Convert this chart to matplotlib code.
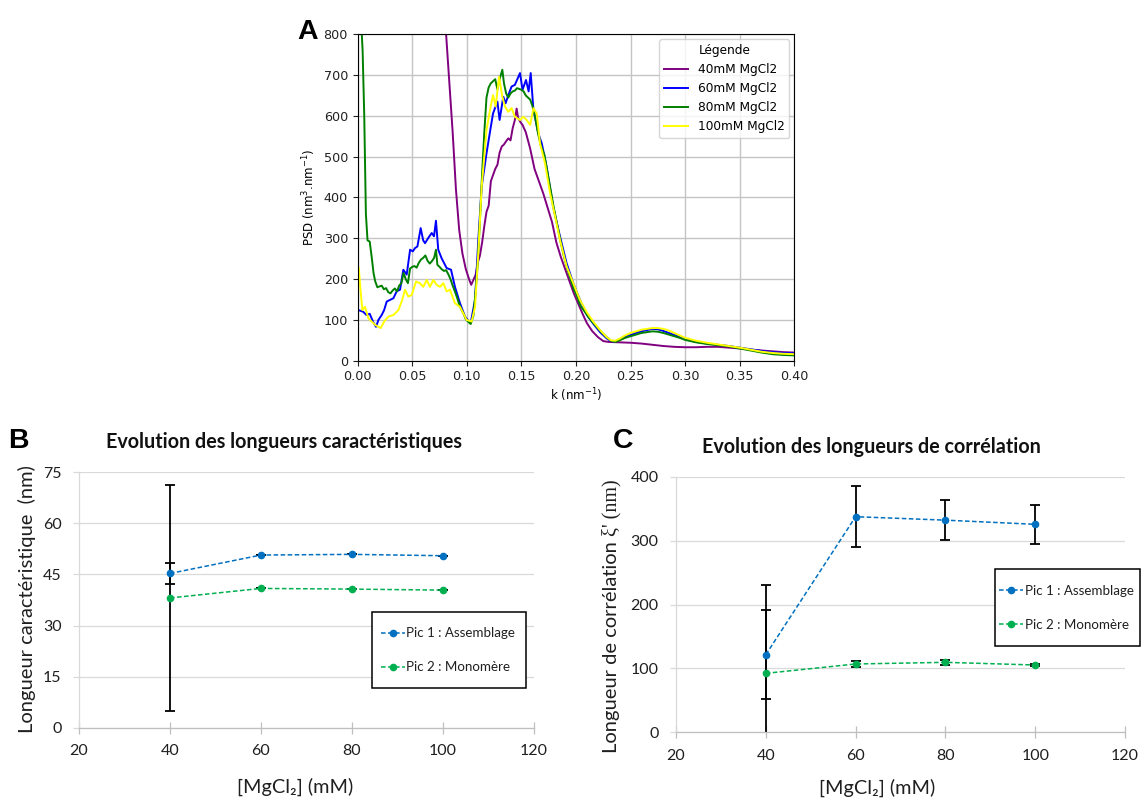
import matplotlib
matplotlib.use('Agg')
import matplotlib.pyplot as plt
from matplotlib.lines import Line2D
from matplotlib.patches import Rectangle
from matplotlib.ticker import FormatStrFormatter

# ---------------- Panel A data (PSD curves) ----------------
K40 = [0.078, 0.081, 0.084, 0.087, 0.090, 0.093, 0.096, 0.099, 0.102, 0.104,
       0.106, 0.108, 0.110, 0.112, 0.114, 0.116, 0.118, 0.120, 0.122, 0.124,
       0.126, 0.128, 0.130, 0.132, 0.134, 0.136, 0.138, 0.140, 0.142, 0.144,
       0.1456, 0.147, 0.149, 0.151, 0.154, 0.158, 0.162, 0.166, 0.170, 0.174,
       0.178, 0.182, 0.186, 0.190, 0.194, 0.198, 0.202, 0.206, 0.210, 0.215,
       0.220, 0.225, 0.230, 0.240, 0.250, 0.260, 0.270, 0.280, 0.290, 0.300,
       0.310, 0.320, 0.330, 0.340, 0.350, 0.360, 0.370, 0.380, 0.390, 0.400]
V40 = [900, 800, 680, 560, 420, 320, 262, 225, 200, 186,
       198, 210, 240, 258, 290, 330, 365, 380, 440, 455,
       470, 480, 510, 525, 530, 538, 545, 540, 570, 590,
       618, 595, 585, 578, 560, 520, 470, 440, 410, 375,
       340, 290, 255, 225, 195, 165, 140, 115, 92, 72,
       58, 48, 46, 45, 44, 42, 39, 36, 34, 33,
       33, 34, 34, 32, 30, 27, 25, 23, 21, 20]

K60 = [0.0005, 0.003, 0.005, 0.008, 0.011, 0.0143, 0.0168, 0.019, 0.022, 0.0242,
       0.0266, 0.0296, 0.0327, 0.0357, 0.0388, 0.0418, 0.0449, 0.048, 0.0505, 0.0525,
       0.0547, 0.0577, 0.0600, 0.0617, 0.0647, 0.0678, 0.0699, 0.0717, 0.0738, 0.0769,
       0.079, 0.0815, 0.0835, 0.0855, 0.0891, 0.0937, 0.0983, 0.1035, 0.1075, 0.1105,
       0.1136, 0.118, 0.1212, 0.124, 0.128, 0.130, 0.1334, 0.1355, 0.138, 0.141,
       0.144, 0.1487, 0.151, 0.1542, 0.1566, 0.1585, 0.161, 0.1655, 0.1686, 0.173,
       0.179, 0.1853, 0.1914, 0.1975, 0.2036, 0.210, 0.216, 0.222, 0.228, 0.232,
       0.236, 0.240, 0.245, 0.250, 0.255, 0.260, 0.265, 0.270, 0.275, 0.280,
       0.285, 0.290, 0.295, 0.300, 0.310, 0.320, 0.330, 0.340, 0.350, 0.360,
       0.370, 0.380, 0.390, 0.400]
V60 = [124, 122, 120, 112, 115, 94, 83, 100, 112, 124,
       145, 149, 153, 170, 174, 223, 211, 272, 268, 276,
       280, 325, 295, 288, 301, 313, 305, 343, 272, 251,
       240, 227, 225, 223, 181, 141, 108, 92, 149, 296,
       427, 508, 561, 606, 635, 590, 647, 631, 651, 672,
       676, 705, 664, 688, 660, 705, 615, 557, 533, 476,
       378, 305, 239, 190, 149, 112, 90, 70, 55, 48,
       47, 52, 58, 63, 68, 72, 75, 78, 77, 73,
       68, 63, 58, 53, 46, 42, 39, 36, 32, 28,
       24, 21, 19, 18]

K80 = [0.0030, 0.0045, 0.0060, 0.0075, 0.0090, 0.011, 0.013, 0.0145, 0.016, 0.018,
       0.020, 0.022, 0.024, 0.026, 0.028, 0.030, 0.032, 0.034, 0.036, 0.038,
       0.040, 0.042, 0.044, 0.046, 0.048, 0.050, 0.052, 0.054, 0.056, 0.058,
       0.060, 0.062, 0.064, 0.066, 0.068, 0.070, 0.0717, 0.073, 0.075, 0.077,
       0.079, 0.081, 0.083, 0.085, 0.087, 0.089, 0.091, 0.093, 0.095, 0.097,
       0.099, 0.101, 0.1035, 0.106, 0.108, 0.110, 0.112, 0.114, 0.116, 0.118,
       0.120, 0.122, 0.124, 0.126, 0.128, 0.130, 0.1325, 0.134, 0.136, 0.138,
       0.140, 0.142, 0.144, 0.146, 0.148, 0.150, 0.152, 0.154, 0.156, 0.158,
       0.160, 0.1625, 0.165, 0.168, 0.171, 0.174, 0.177, 0.180, 0.183, 0.186,
       0.189, 0.192, 0.195, 0.198, 0.201, 0.204, 0.208, 0.212, 0.216, 0.220,
       0.224, 0.228, 0.232, 0.236, 0.240, 0.245, 0.250, 0.255, 0.260, 0.265,
       0.270, 0.275, 0.280, 0.285, 0.290, 0.295, 0.300, 0.310, 0.320, 0.330,
       0.340, 0.350, 0.360, 0.370, 0.380, 0.390, 0.400]
V80 = [840, 760, 600, 360, 295, 292, 250, 215, 195, 180,
       182, 184, 175, 178, 168, 165, 172, 177, 170, 184,
       190, 215, 200, 190, 226, 230, 232, 228, 240, 248,
       252, 258, 245, 238, 244, 252, 272, 235, 230, 224,
       220, 222, 212, 200, 184, 170, 155, 138, 125, 115,
       102, 96, 90, 110, 170, 240, 345, 460, 560, 645,
       670, 680, 685, 690, 665, 690, 713, 680, 655, 645,
       655, 660, 662, 668, 666, 664, 660, 650, 645, 640,
       625, 598, 560, 525, 505, 460, 415, 370, 330, 290,
       255, 225, 200, 175, 158, 135, 120, 105, 92, 80,
       68, 58, 49, 46, 50, 56, 60, 64, 68, 70,
       72, 71, 68, 64, 60, 56, 51, 45, 41, 38,
       35, 30, 25, 20, 16, 14, 13]

K100 = [0.0010, 0.0028, 0.0043, 0.0067, 0.0098, 0.0128, 0.0159, 0.019, 0.0211, 0.0242,
        0.0281, 0.0327, 0.0373, 0.0403, 0.0434, 0.0464, 0.0495, 0.0534, 0.057, 0.0601,
        0.0632, 0.0662, 0.0693, 0.0723, 0.0754, 0.0784, 0.0815, 0.0845, 0.0891, 0.0937,
        0.0998, 0.1044, 0.1075, 0.1105, 0.1136, 0.118, 0.1218, 0.124, 0.1264, 0.1295,
        0.1325, 0.1349, 0.138, 0.141, 0.144, 0.1487, 0.1517, 0.1548, 0.158, 0.161,
        0.164, 0.167, 0.1716, 0.1762, 0.1808, 0.1853, 0.1914, 0.1975, 0.2036, 0.210,
        0.216, 0.222, 0.228, 0.232, 0.236, 0.240, 0.245, 0.250, 0.255, 0.260,
        0.265, 0.270, 0.275, 0.280, 0.285, 0.290, 0.295, 0.300, 0.310, 0.320,
        0.330, 0.340, 0.350, 0.360, 0.370, 0.380, 0.390, 0.400]
V100 = [227, 166, 124, 132, 104, 96, 88, 83, 80, 96,
        108, 112, 124, 145, 174, 157, 161, 194, 190, 181,
        198, 181, 198, 186, 181, 190, 170, 174, 141, 132,
        100, 96, 132, 264, 427, 565, 623, 651, 623, 696,
        647, 623, 610, 619, 598, 590, 598, 590, 578, 619,
        606, 533, 484, 411, 354, 296, 231, 190, 149, 118,
        95, 75, 58, 50, 49, 54, 62, 68, 72, 76,
        78, 80, 80, 78, 74, 68, 62, 56, 49, 44,
        40, 36, 32, 27, 22, 19, 17, 16]

PSD_LABELS = ['40mM MgCl2', '60mM MgCl2', '80mM MgCl2', '100mM MgCl2']
PSD_COLORS = ['purple', 'blue', 'green', 'yellow']

# ---------------- Panels B & C data ----------------
MGCL2 = [40, 60, 80, 100]
B_PIC1 = [45.3, 50.7, 50.9, 50.5]
B_PIC1_ERR = [3.15, 0, 0, 0]
B_PIC2 = [38.1, 40.9, 40.7, 40.4]
B_PIC2_ERR = [33.15, 0, 0, 0]

C_PIC1 = [121.5, 337.4, 332.0, 325.5]
C_PIC1_ERR = [69.9, 48.0, 31.8, 30.3]
C_PIC2 = [92.3, 106.9, 109.5, 105.3]
C_PIC2_ERR = [138.2, 4.0, 4.0, 2.0]

SERIES_LABELS = ['Pic 1 : Assemblage', 'Pic 2 : Monomère']
BLUE = '#0070C0'
GREEN = '#00B050'
FAM = ['Lato', 'DejaVu Sans']
TXT = '#1f1f1f'

W, H = 1141, 800
fig = plt.figure(figsize=(W / 100, H / 100), dpi=100)
fig.patch.set_facecolor('white')


def fx(px):
    return px / W


def fy(py):
    return 1 - py / H


# ---------------- Panel A ----------------
axA = fig.add_axes([fx(357.7), fy(360.7), (794.3 - 357.7) / W, (360.7 - 34.3) / H])
for kk, vv, col, lab in zip([K40, K60, K80, K100], [V40, V60, V80, V100],
                            PSD_COLORS, PSD_LABELS):
    assert len(kk) == len(vv)
    axA.plot(kk, vv, color=col, lw=1.4, label=lab)
axA.set_xlim(0, 0.4)
axA.set_ylim(0, 800)
axA.set_xticks([0, 0.05, 0.10, 0.15, 0.20, 0.25, 0.30, 0.35, 0.40])
axA.set_yticks(range(0, 801, 100))
axA.xaxis.set_major_formatter(FormatStrFormatter('%.2f'))
axA.grid(True, color='#c4c4c4', lw=1.0)
axA.set_axisbelow(True)
axA.tick_params(labelsize=9.2, colors='#222222')
axA.set_xlabel('k (nm$^{-1}$)', fontsize=8.5, labelpad=2)
axA.set_ylabel('PSD (nm$^3$.nm$^{-1}$)', fontsize=8.5, labelpad=4)
legA = axA.legend(title='Légende', fontsize=8.7, title_fontsize=8.7, loc='upper right',
                  borderaxespad=0.4, fancybox=True)
legA.get_frame().set_edgecolor('#cccccc')
fig.text(fx(297), fy(39.3), 'A', fontsize=20.5, fontweight='bold',
         family='Liberation Sans', va='baseline', ha='left')


# ---------------- Excel-like panels ----------------
def excel_axes(x0, x1, y0, y1, ylim, yticks):
    ax = fig.add_axes([fx(x0), fy(y1), (x1 - x0) / W, (y1 - y0) / H])
    ax.set_xlim(20, 120)
    ax.set_ylim(*ylim)
    xt = list(range(20, 121, 20))
    ax.set_xticks(xt, labels=[str(v) for v in xt], fontfamily=FAM, fontsize=11.5,
                  color=TXT)
    ax.set_yticks(yticks, labels=[str(v) for v in yticks], fontfamily=FAM, fontsize=11.5,
                  color=TXT)
    for s in ['top', 'right']:
        ax.spines[s].set_visible(False)
    ax.spines['left'].set_color('#d9d9d9')
    ax.spines['bottom'].set_color('#bfbfbf')
    ax.spines['left'].set_linewidth(0.9)
    ax.spines['bottom'].set_linewidth(0.9)
    ax.yaxis.grid(True, color='#d9d9d9', lw=0.9)
    ax.set_axisbelow(True)
    ax.tick_params(axis='x', direction='inout', length=8, width=0.9, color='#bfbfbf', pad=8)
    ax.tick_params(axis='y', direction='out', length=4.5, width=0.9, color='#d9d9d9', pad=8)
    return ax


def draw_series(ax, y1, e1, y2, e2):
    ax.errorbar(MGCL2, y1, yerr=e1, fmt='none', ecolor='black', elinewidth=1.3,
                capsize=3.4, capthick=1.3, zorder=2)
    ax.errorbar(MGCL2, y2, yerr=e2, fmt='none', ecolor='black', elinewidth=1.3,
                capsize=3.4, capthick=1.3, zorder=2)
    ax.plot(MGCL2, y1, color=BLUE, ls=(0, (3, 1.6)), lw=1.1, marker='o', ms=4.5, zorder=3)
    ax.plot(MGCL2, y2, color=GREEN, ls=(0, (3, 1.6)), lw=1.1, marker='o', ms=4.5, zorder=3)


def excel_legend(ax, box, anchor):
    ax.add_patch(Rectangle(box[:2], box[2], box[3], transform=ax.transAxes,
                           facecolor='white', edgecolor='black', lw=1.1,
                           clip_on=False, zorder=4))
    handles = [Line2D([], [], color=BLUE, ls=(0, (3, 1.6)), lw=1.1, marker='o', ms=4.5),
               Line2D([], [], color=GREEN, ls=(0, (3, 1.6)), lw=1.1, marker='o', ms=4.5)]
    leg = ax.legend(handles, SERIES_LABELS, loc='center left', bbox_to_anchor=anchor,
                    frameon=False, prop={'family': FAM, 'size': 9.6}, handlelength=1.8,
                    handletextpad=0.12, labelspacing=1.65, borderpad=0,
                    borderaxespad=0, numpoints=1)
    leg.set_zorder(5)
    for t in leg.get_texts():
        t.set_color(TXT)
    return leg


# Panel B
axB = excel_axes(79, 534, 472.3, 727.7, (0, 75), [0, 15, 30, 45, 60, 75])
draw_series(axB, B_PIC1, B_PIC1_ERR, B_PIC2, B_PIC2_ERR)
excel_legend(axB, (0.643, 0.154, 0.339, 0.298), (0.663, 0.303))
fig.text(fx(8), fy(448.3), 'B', fontsize=20.5, fontweight='bold',
         family='Liberation Sans', va='baseline', ha='left')
fig.text(fx(284), fy(448.3), 'Evolution des longueurs caractéristiques', fontsize=14.2,
         fontweight='bold', family=FAM, ha='center', va='baseline', color='#111111')
fig.text(fx(27), fy(599.2), 'Longueur caractéristique  (nm)', rotation=90, fontsize=14.5,
         family=FAM, ha='center', va='center', color=TXT)
fig.text(fx(295), fy(786.5), '[MgCl₂] (mM)', fontsize=14.3, family=FAM,
         ha='center', va='center', color=TXT)

# Panel C
axC = excel_axes(676, 1125, 476.7, 732.3, (0, 400), [0, 100, 200, 300, 400])
draw_series(axC, C_PIC1, C_PIC1_ERR, C_PIC2, C_PIC2_ERR)
excel_legend(axC, (0.7105, 0.338, 0.3225, 0.300), (0.720, 0.4875))
fig.text(fx(613), fy(448.3), 'C', fontsize=20.5, fontweight='bold',
         family='Liberation Sans', va='baseline', ha='left')
fig.text(fx(871.7), fy(452.7), 'Evolution des longueurs de corrélation', fontsize=14.2,
         fontweight='bold', family=FAM, ha='center', va='baseline', color='#111111')
fig.text(fx(877), fy(788), '[MgCl₂] (mM)', fontsize=14.3, family=FAM,
         ha='center', va='center', color=TXT)

renderer = fig.canvas.get_renderer()
t1 = fig.text(fx(611.7), fy(753.3), 'Longueur de corrélation ', rotation=90,
              rotation_mode='anchor', fontsize=14.5, family=FAM, ha='left', va='center',
              color=TXT)
ext = t1.get_window_extent(renderer=renderer)
fig.text(fx(611.7), fy(753.3) + ext.height / H, "ξ' (nm)", rotation=90,
         rotation_mode='anchor', fontsize=14.5, family=['Liberation Serif', 'DejaVu Serif'],
         ha='left', va='center', color=TXT)

fig.savefig('out.png', dpi=100, facecolor='white')
